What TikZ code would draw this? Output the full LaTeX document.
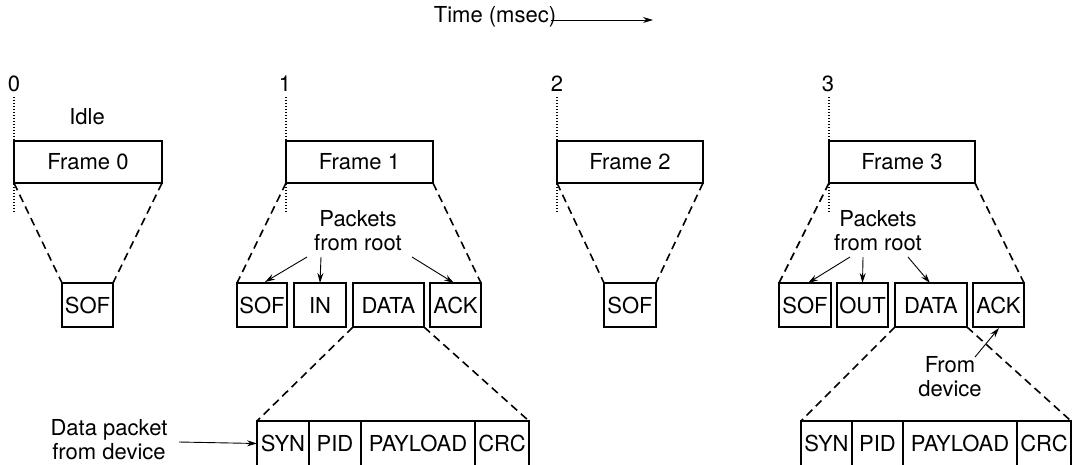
\documentclass[tikz,border=0pt]{standalone}
\usepackage{fontspec}
\setmainfont{TeX Gyre Heros}
\usetikzlibrary{arrows.meta}
\begin{document}
\begin{tikzpicture}[x=1pt,y=-1pt,
  every node/.style={font=\fontsize{22}{24}\selectfont, inner sep=0pt, outer sep=0pt},
  box/.style 2 args={draw, line width=1.9pt, anchor=north west, minimum width=#1pt, minimum height=#2pt},
  lbl/.style={align=center},
  zoomline/.style={line width=1.6pt, dash pattern=on 8pt off 5pt},
  tick/.style={line width=1.3pt, dash pattern=on 1.3pt off 1.7pt},
  pointer/.style={line width=0.9pt, -{Stealth[length=10pt,width=6pt]}}]
\useasboundingbox (0,0) rectangle (1074,464);
\clip (0,0) rectangle (1074,464);

% time axis
\node (time) at (495,17) {Time (msec)};
\coordinate (tend) at (653,20);
\draw[pointer] (551,20) -- (tend);

% tick labels and dotted markers
\node (n0) at (14,84) {0};
\node (n1) at (285,84) {1};
\node (n2) at (557,84) {2};
\node (n3) at (828,84) {3};
\coordinate (d0) at (14,213);
\coordinate (d1) at (286,213);
\coordinate (d2) at (557,213);
\coordinate (d3) at (829,213);
\draw[tick] (14,97) -- (d0);
\draw[tick] (286,97) -- (d1);
\draw[tick] (557,97) -- (d2);
\draw[tick] (829,97) -- (d3);

\node (idle) at (87,117) {Idle};

% frames
\node[box={148}{42}] (f0) at (14,141) {Frame 0};
\node[box={147}{42}] (f1) at (286,141) {Frame 1};
\node[box={146}{42}] (f2) at (557,141) {Frame 2};
\node[box={146}{42}] (f3) at (829,141) {Frame 3};

% packets row
\node[box={51}{44}] (f0sof) at (62,283) {SOF};

\node[box={50}{44}] (f1sof) at (237,283) {SOF};
\node[box={52}{44}] (f1in) at (294,283) {IN};
\node[box={71}{44}] (f1data) at (353,283) {DATA};
\node[box={51}{44}] (f1ack) at (430,283) {ACK};

\node[box={52}{44}] (f2sof) at (604,283) {SOF};

\node[box={52}{44}] (f3sof) at (779,283) {SOF};
\node[box={51}{44}] (f3out) at (837,283) {OUT};
\node[box={72}{44}] (f3data) at (895,283) {DATA};
\node[box={51}{44}] (f3ack) at (973,283) {ACK};

% data packet rows
\node[box={52}{45}] (f1syn) at (257,421) {SYN};
\node[box={52}{45}] (f1pid) at (309,421) {PID};
\node[box={114}{45}] (f1pay) at (361,421) {PAYLOAD};
\node[box={54}{45}] (f1crc) at (475,421) {CRC};

\node[box={51}{45}] (f3syn) at (801,421) {SYN};
\node[box={51}{45}] (f3pid) at (852,421) {PID};
\node[box={114}{45}] (f3pay) at (903,421) {PAYLOAD};
\node[box={54}{45}] (f3crc) at (1017,421) {CRC};

% zoom lines
\draw[zoomline] (f0.south west) -- (f0sof.north west);
\draw[zoomline] (f0.south east) -- (f0sof.north east);
\draw[zoomline] (f1.south west) -- (f1sof.north west);
\draw[zoomline] (f1.south east) -- (f1ack.north east);
\draw[zoomline] (f2.south west) -- (f2sof.north west);
\draw[zoomline] (f2.south east) -- (f2sof.north east);
\draw[zoomline] (f3.south west) -- (f3sof.north west);
\draw[zoomline] (f3.south east) -- (f3ack.north east);
\draw[zoomline] (f1data.south west) -- (f1syn.north west);
\draw[zoomline] (f1data.south east) -- (f1crc.north east);
\draw[zoomline] (f3data.south west) -- (f3syn.north west);
\draw[zoomline] (f3data.south east) -- (f3crc.north east);

% annotations
\node[lbl] (root1) at (358,231) {Packets\\from root};
\node[lbl] (root3) at (878,231) {Packets\\from root};
\node[lbl] (dev3) at (950,377) {From\\device};
\node[lbl] (dev1) at (109,440) {Data packet\\from device};

\coordinate (r1a) at (307,257);
\coordinate (r1b) at (321,257);
\coordinate (r1c) at (412,257);
\draw[pointer] (r1a) -- (265,282);
\draw[pointer] (r1b) -- (f1in.north);
\draw[pointer] (r1c) -- (454,283);

\coordinate (r3a) at (850,257);
\coordinate (r3b) at (863,257);
\coordinate (r3c) at (908,257);
\draw[pointer] (r3a) -- (808,283);
\draw[pointer] (r3b) -- (f3out.north);
\draw[pointer] (r3c) -- (930,283);

\coordinate (dv3) at (975,357);
\draw[pointer] (dv3) -- (999,328);

\coordinate (dv1) at (179,442);
\draw[pointer] (dv1) -- (f1syn.west);
\end{tikzpicture}
\end{document}
